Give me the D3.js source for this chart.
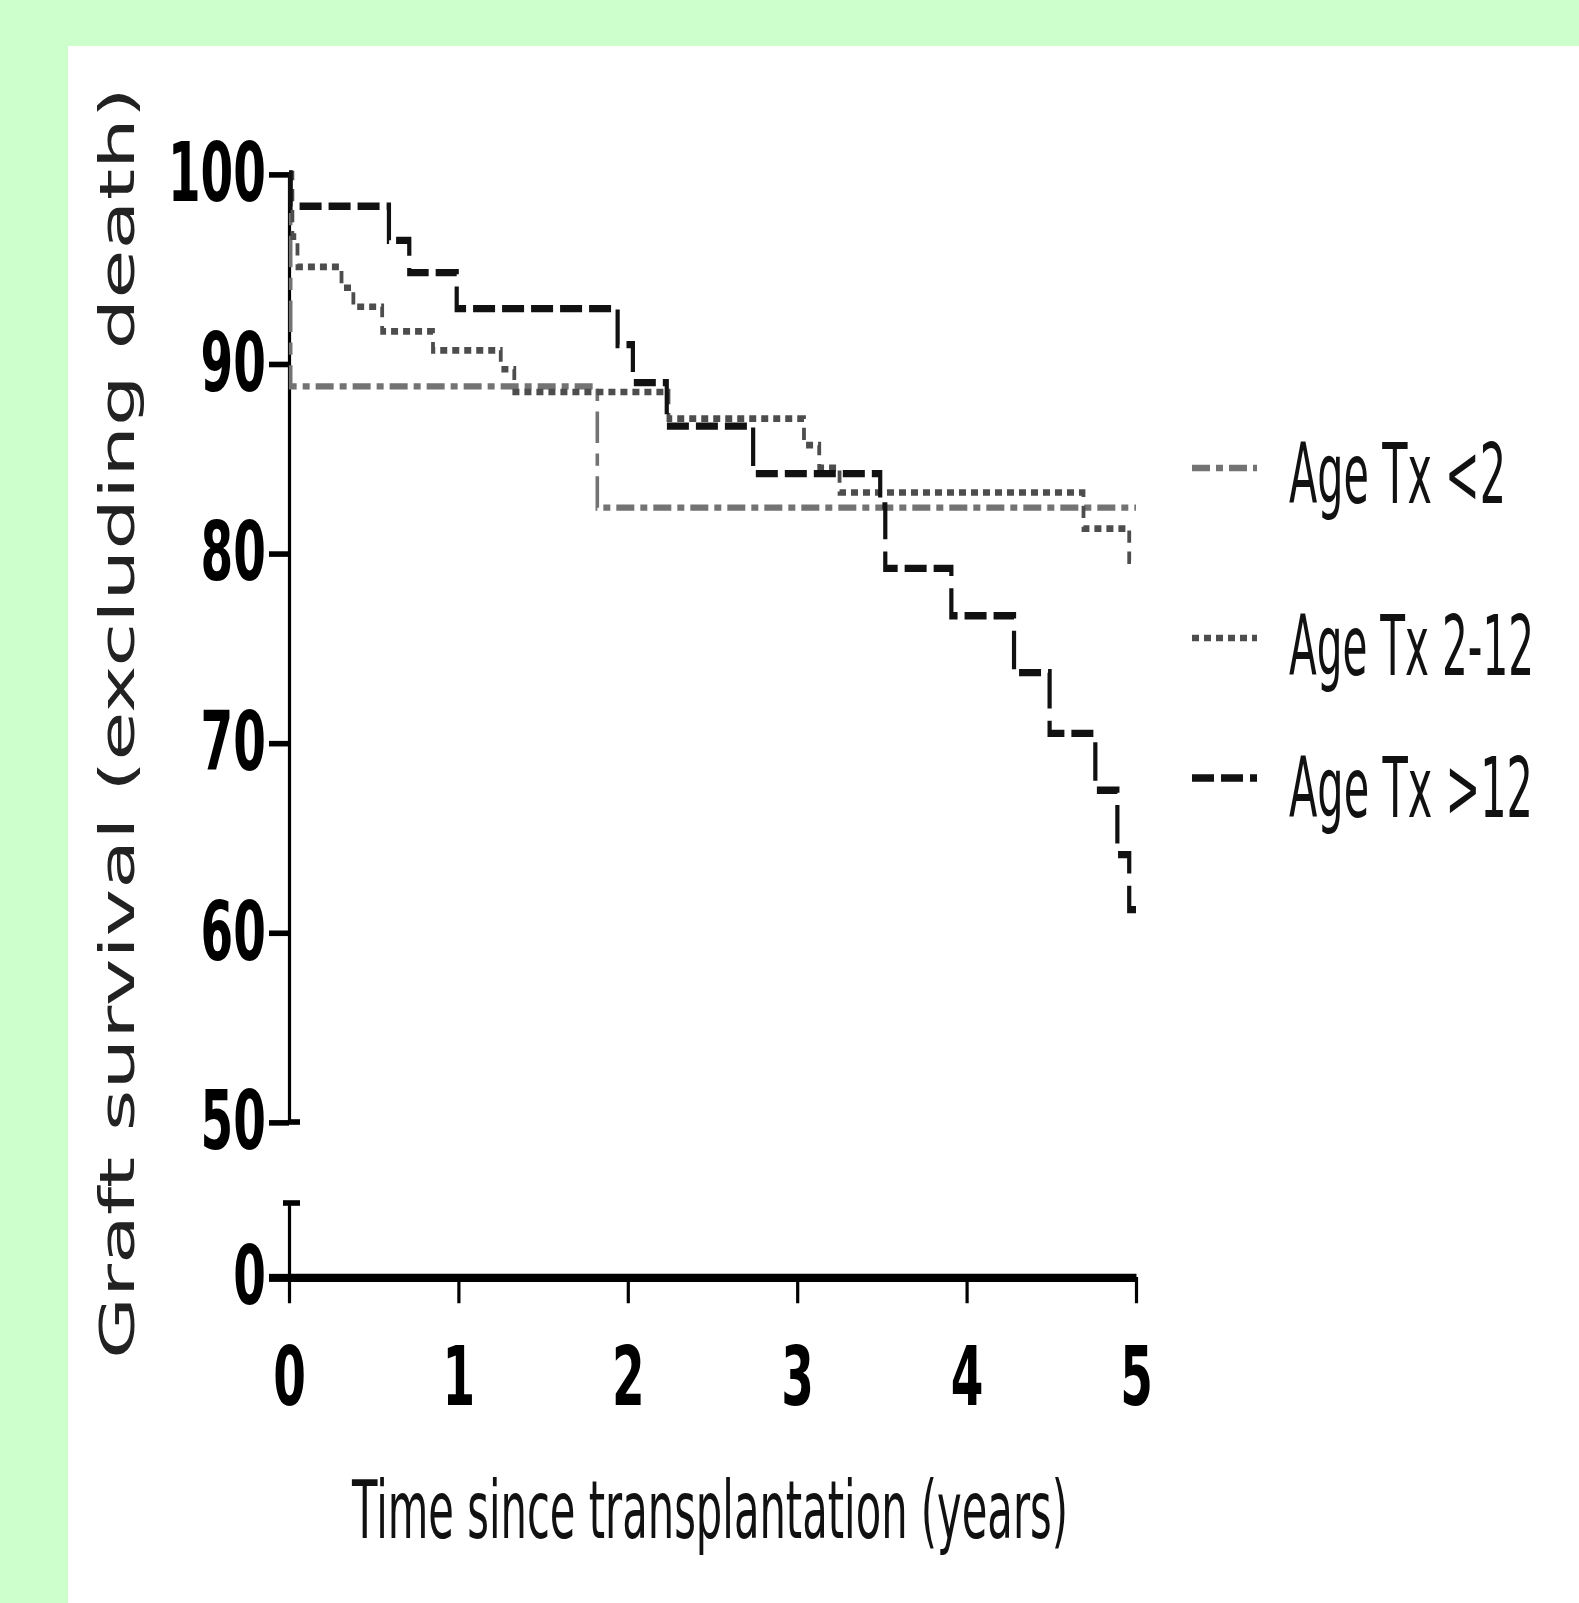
<!DOCTYPE html>
<html>
<head>
<meta charset="utf-8">
<script src="https://cdn.jsdelivr.net/npm/d3@7"></script>
<style>
  body { margin: 0; background: #ccffcc; }
</style>
</head>
<body>
<div id="chart"></div>
<script>
// Données (temps en années, survie en %)
const groupes = ["Age Tx <2", "Age Tx 2-12", "Age Tx >12"];

const tempsMoins2 = [0, 0.01, 1.82, 5.0];
const survieMoins2 = [100, 88.8, 82.4, 82.4];

const temps2a12 = [0, 0.02, 0.05, 0.31, 0.38, 0.55, 0.85, 1.25, 1.33, 2.24, 3.04, 3.13, 3.25, 4.69, 4.96, 4.98];
const survie2a12 = [100, 96.7, 95.1, 94.0, 93.0, 91.7, 90.7, 89.7, 88.5, 87.1, 85.7, 84.5, 83.2, 81.3, 79.6, 79.6];

const tempsPlus12 = [0, 0.01, 0.59, 0.71, 0.99, 1.94, 2.03, 2.23, 2.74, 3.49, 3.52, 3.91, 4.28, 4.49, 4.76, 4.89, 4.96, 5.0];
const surviePlus12 = [100, 98.3, 96.5, 94.8, 92.9, 91.0, 89.0, 86.7, 84.2, 82.5, 79.2, 76.7, 73.7, 70.5, 67.5, 64.1, 61.2, 61.2];

const ticksX = [0, 1, 2, 3, 4, 5];
const ticksY = [50, 60, 70, 80, 90, 100];
const ticksYBas = [0];

function dessiner() {
    const width = 1579;
    const height = 1603;
    const K = 1.75; // l'image d'origine est étirée verticalement

    const svg = d3.select("#chart")
        .append("svg")
        .attr("width", width)
        .attr("height", height)
        .style("display", "block");

    // fond vert + panneau blanc
    svg.append("rect").attr("width", width).attr("height", height).attr("fill", "#ccffcc");
    svg.append("rect").attr("x", 68).attr("y", 46)
        .attr("width", width - 68).attr("height", height - 46).attr("fill", "#ffffff");

    const g = svg.append("g").attr("transform", `scale(1, ${K})`);

    // échelles
    const x = d3.scaleLinear().domain([0, 5]).range([289, 1136]);
    const y = d3.scaleLinear().domain([50, 100]).range([1122 / K, 174 / K]);
    const yBas = d3.scaleLinear().domain([0, 5]).range([1277 / K, 1203 / K]);

    const police = "'DejaVu Sans', Verdana, sans-serif";
    const format = d3.format("d");

    // axe Y haut (50 - 100)
    const axeY = g.append("g")
        .attr("transform", `translate(${x(0)},0)`)
        .call(d3.axisLeft(y).tickValues(ticksY).tickFormat(format).tickSize(20).tickSizeOuter(0).tickPadding(3));
    // petit trait de coupure sous 50
    axeY.append("line")
        .attr("x1", 0).attr("x2", 11)
        .attr("y1", y(50)).attr("y2", y(50));

    // axe Y bas (0)
    const axeYBas = g.append("g")
        .attr("transform", `translate(${x(0)},0)`)
        .call(d3.axisLeft(yBas).tickValues(ticksYBas).tickFormat(format).tickSize(20).tickSizeOuter(0).tickPadding(3));
    axeYBas.append("line")
        .attr("x1", -6).attr("x2", 11)
        .attr("y1", yBas(5)).attr("y2", yBas(5));

    // axe X
    const axeX = g.append("g")
        .attr("transform", `translate(0,${yBas(0)})`)
        .call(d3.axisBottom(x).tickValues(ticksX).tickFormat(format).tickSize(15).tickSizeOuter(0).tickPadding(25));

    [axeY, axeYBas, axeX].forEach(a => {
        a.selectAll("line").attr("stroke", "#000").attr("stroke-width", 3.2);
        a.select(".domain").attr("stroke", "#000").attr("stroke-width", 3.2);
        a.selectAll("text")
            .attr("font-family", police)
            .attr("font-weight", "bold")
            .attr("font-size", 47)
            .attr("fill", "#000");
    });
    axeX.select(".domain").attr("stroke-width", 4.6);
    axeYBas.selectAll(".tick line").attr("stroke-width", 4.6);

    // courbes de survie (marches)
    const ligne = d3.line()
        .x(d => x(d[0]))
        .y(d => y(d[1]))
        .curve(d3.curveStepAfter);

    const series = [
        {nom: groupes[0], t: tempsMoins2, s: survieMoins2, couleur: "#737373", tirets: "18,6,7,6", epaisseur: 3.6},
        {nom: groupes[1], t: temps2a12, s: survie2a12, couleur: "#4d4d4d", tirets: "7,5", epaisseur: 3.8},
        {nom: groupes[2], t: tempsPlus12, s: surviePlus12, couleur: "#111111", tirets: "22,7", epaisseur: 4.2}
    ];

    series.forEach(serie => {
        const points = serie.t.map((t, i) => [t, serie.s[i]]);
        g.append("path")
            .attr("d", ligne(points))
            .attr("fill", "none")
            .attr("stroke", serie.couleur)
            .attr("stroke-width", serie.epaisseur)
            .attr("stroke-dasharray", serie.tirets);
    });

    // légende
    const legendeY = [468, 638, 778];
    const legendeBase = [503, 675, 817];
    const legendeLargeur = [217, 245, 244];
    series.forEach((serie, i) => {
        g.append("line")
            .attr("x1", 1192).attr("x2", 1257)
            .attr("y1", legendeY[i] / K).attr("y2", legendeY[i] / K)
            .attr("stroke", serie.couleur)
            .attr("stroke-width", serie.epaisseur)
            .attr("stroke-dasharray", serie.tirets);
        g.append("text")
            .attr("x", 1289)
            .attr("y", legendeBase[i] / K)
            .attr("font-family", police)
            .attr("font-size", 48)
            .attr("textLength", legendeLargeur[i])
            .attr("lengthAdjust", "spacingAndGlyphs")
            .attr("fill", "#111")
            .text(serie.nom);
    });

    // titres des axes
    g.append("text")
        .attr("x", 352)
        .attr("y", 1538 / K)
        .attr("font-family", police)
        .attr("font-size", 46)
        .attr("textLength", 716)
        .attr("lengthAdjust", "spacingAndGlyphs")
        .attr("fill", "#111")
        .text("Time since transplantation (years)");

    g.append("text")
        .attr("transform", `translate(134, ${723 / K}) rotate(-90)`)
        .attr("text-anchor", "middle")
        .attr("font-family", police)
        .attr("font-size", 48)
        .attr("textLength", 727)
        .attr("lengthAdjust", "spacingAndGlyphs")
        .attr("fill", "#222")
        .text("Graft survival (excluding death)");
}

dessiner();
</script>
</body>
</html>
